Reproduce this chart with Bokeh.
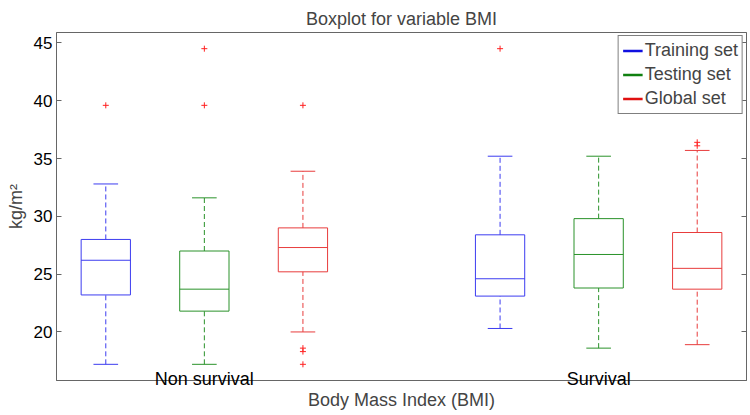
from bokeh.plotting import figure
from bokeh.models import (Range1d, FixedTicker, LinearAxis, Legend, LegendItem,
                          ColumnDataSource)
from bokeh.embed import file_html
from bokeh.resources import INLINE

# ---------------- data ----------------
groups = ["Non survival", "Survival"]
sets = ["Training set", "Testing set", "Global set"]
# one entry per box: group-major order (Non survival: train, test, global; Survival: ...)
lower_whisker = [17.2, 17.2, 20.0, 20.3, 18.6, 18.9]
q1 = [23.2, 21.8, 25.2, 23.1, 23.8, 23.7]
median = [26.2, 23.7, 27.3, 24.6, 26.7, 25.5]
q3 = [28.0, 27.0, 29.0, 28.4, 29.8, 28.6]
upper_whisker = [32.8, 31.6, 33.9, 35.2, 35.2, 35.7]
# outliers: index of box, value
outlier_box = [0, 1, 1, 2, 2, 2, 2, 3, 5, 5]
outlier_val = [39.6, 39.6, 44.5, 39.6, 18.6, 18.3, 17.2, 44.5, 36.4, 36.1]
y_ticks = [20, 25, 30, 35, 40, 45]

# ---------------- styling ----------------
FONT = "Liberation Sans"
box_colors = ["#3c3cf0", "#2a922a", "#e83c3c"]
legend_colors = ["#1010e0", "#108010", "#e01010"]
axis_col = "#666666"

n_sets = len(sets)
n_groups = len(groups)
group_centers = [gi * (n_sets + 1) + (n_sets + 1) / 2 for gi in range(n_groups)]

box_w = 0.5
cap_w = 0.25

p = figure(width=750, height=415,
           x_range=Range1d(0.5, 7.5), y_range=Range1d(15.8, 45.9),
           output_backend="svg", toolbar_location=None,
           min_border_left=56, min_border_right=4,
           min_border_top=32, min_border_bottom=35)

p.title.text = "Boxplot for variable BMI"
p.title.align = "center"
p.title.vertical_align = "top"
p.title.text_font = FONT
p.title.text_font_size = "18px"
p.title.text_font_style = "normal"
p.title.standoff = 4

p.xgrid.visible = False
p.ygrid.visible = False
p.outline_line_color = axis_col
p.outline_line_alpha = 1
p.outline_line_width = 1

# left axis
p.yaxis.ticker = FixedTicker(ticks=y_ticks)
p.yaxis.major_tick_in = 5
p.yaxis.major_tick_out = 0
p.yaxis.minor_tick_in = 0
p.yaxis.minor_tick_out = 0
p.yaxis.axis_line_color = axis_col
p.yaxis.major_tick_line_color = axis_col
p.yaxis.minor_tick_line_color = axis_col
p.yaxis.major_label_text_font = FONT
p.yaxis.major_label_text_font_size = "17px"
p.yaxis.major_label_text_color = "black"
p.yaxis.major_label_standoff = 4
p.yaxis.axis_label = "kg/m²"
p.yaxis.axis_label_text_font = FONT
p.yaxis.axis_label_text_font_size = "18px"
p.yaxis.axis_label_text_font_style = "normal"
p.yaxis.axis_label_standoff = 5

# bottom axis: group names written across the axis line, then the axis title
p.xaxis.ticker = FixedTicker(ticks=group_centers)
p.xaxis.major_label_overrides = {c: g for c, g in zip(group_centers, groups)}
p.xaxis.major_tick_in = 0
p.xaxis.major_tick_out = 0
p.xaxis.minor_tick_in = 0
p.xaxis.minor_tick_out = 0
p.xaxis.axis_line_color = axis_col
p.xaxis.major_tick_line_color = axis_col
p.xaxis.minor_tick_line_color = axis_col
p.xaxis.major_label_text_font = FONT
p.xaxis.major_label_text_font_size = "18px"
p.xaxis.major_label_text_color = "black"
p.xaxis.major_label_standoff = -12
p.xaxis.axis_label = "Body Mass Index (BMI)"
p.xaxis.axis_label_text_font = FONT
p.xaxis.axis_label_text_font_size = "18px"
p.xaxis.axis_label_text_font_style = "normal"
p.xaxis.axis_label_standoff = -2

# right axis: ticks only (no labels)
ra = LinearAxis(ticker=FixedTicker(ticks=y_ticks),
                major_label_overrides={t: "" for t in y_ticks},
                major_label_text_font_size="10px",
                major_tick_in=5, major_tick_out=0,
                minor_tick_in=0, minor_tick_out=0, minor_tick_line_color=axis_col,
                axis_line_color=axis_col, major_tick_line_color=axis_col,
                major_label_standoff=0)
p.add_layout(ra, "right")

# draw one renderer per set so every mark gets a plain colour
for si in range(n_sets):
    idx = [gi * n_sets + si for gi in range(n_groups)]
    xs = [gi * (n_sets + 1) + si + 1 for gi in range(n_groups)]
    src = ColumnDataSource(dict(
        x=xs,
        lw=[lower_whisker[i] for i in idx], q1=[q1[i] for i in idx],
        med=[median[i] for i in idx], q3=[q3[i] for i in idx],
        uw=[upper_whisker[i] for i in idx],
        left=[x - box_w / 2 for x in xs], right=[x + box_w / 2 for x in xs],
        cl=[x - cap_w / 2 for x in xs], cr=[x + cap_w / 2 for x in xs],
    ))
    c = box_colors[si]
    # whiskers (dashed)
    p.segment(x0="x", x1="x", y0="q3", y1="uw", source=src, line_color=c,
              line_width=1, line_dash="5 3")
    p.segment(x0="x", x1="x", y0="lw", y1="q1", source=src, line_color=c,
              line_width=1, line_dash="5 3")
    # caps
    p.segment(x0="cl", x1="cr", y0="uw", y1="uw", source=src, line_color=c, line_width=1)
    p.segment(x0="cl", x1="cr", y0="lw", y1="lw", source=src, line_color=c, line_width=1)
    # box
    p.quad(left="left", right="right", top="q3", bottom="q1", source=src,
           fill_alpha=0, line_color=c, line_width=1)
    # median
    p.segment(x0="left", x1="right", y0="med", y1="med", source=src, line_color=c, line_width=1)

# outliers
ox = [(b // n_sets) * (n_sets + 1) + (b % n_sets) + 1 for b in outlier_box]
p.scatter(x=ox, y=outlier_val, marker="cross", size=6, line_color="#ff2020", line_width=1)

# legend: hidden proxy lines (one per set) only used for the legend swatches
items = []
for si, s in enumerate(sets):
    idx = [gi * n_sets + si for gi in range(n_groups)]
    xs = [gi * (n_sets + 1) + si + 1 for gi in range(n_groups)]
    r = p.line(x=xs, y=[median[i] for i in idx], line_color=legend_colors[si],
               line_width=2.5, visible=False)
    items.append(LegendItem(label=s, renderers=[r]))
legend = Legend(items=items, location="top_right", margin=3, padding=4,
                spacing=3, glyph_width=20, glyph_height=21, label_height=21,
                label_standoff=2, label_text_font=FONT, label_text_font_size="18px",
                border_line_color="black", border_line_width=1,
                background_fill_color="white", background_fill_alpha=1)
p.add_layout(legend)

open("out.html", "w").write(file_html(p, INLINE))
